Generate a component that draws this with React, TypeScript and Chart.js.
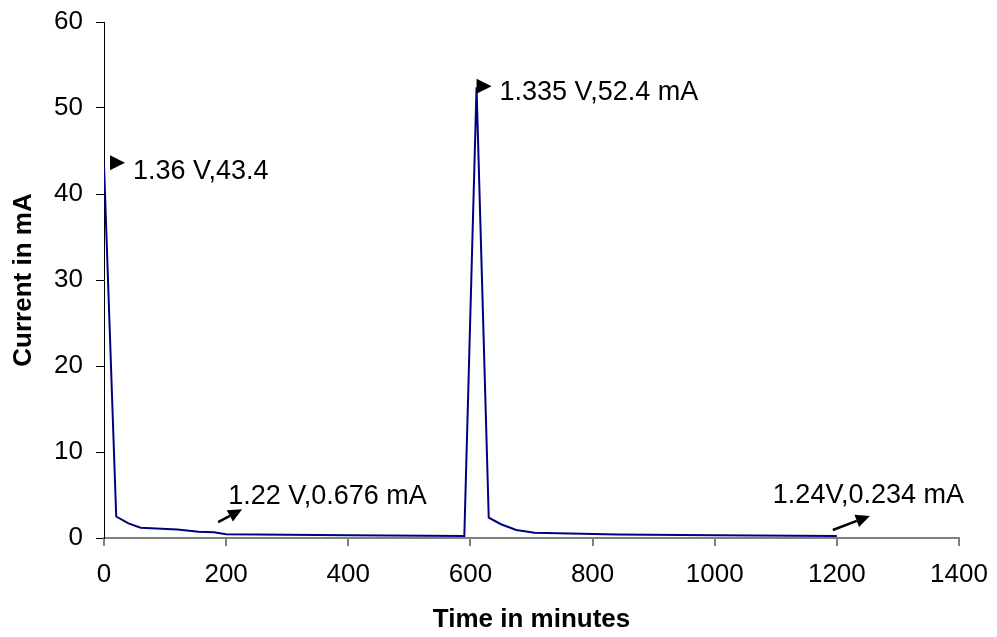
import React, { useEffect, useRef } from "react";
import { Chart, registerables } from "chart.js";

Chart.register(...registerables);

// ---- data ----
const timeMinutes = [0, 20, 40, 60, 120, 155, 180, 200, 400, 590, 610, 630, 650, 675, 705, 840, 1000, 1200];
const currentMA = [43.4, 2.5, 1.7, 1.2, 1.0, 0.72, 0.66, 0.45, 0.33, 0.22, 52.4, 2.36, 1.6, 0.93, 0.62, 0.4, 0.32, 0.234];

const xTickValues = [0, 200, 400, 600, 800, 1000, 1200, 1400];
const yTickValues = [0, 10, 20, 30, 40, 50, 60];

const annotationTexts = ["1.36 V,43.4", "1.335 V,52.4 mA", "1.22 V,0.676 mA", "1.24V,0.234 mA"];
const annotationX = [0, 610, 200, 1200];
const annotationY = [43.4, 52.4, 0.676, 0.234];

// ---- annotation layout (pixel offsets from the anchor point) ----
type AnnLayout = {
  kind: "tri" | "arrow";
  textDx: number;
  textDy: number;
  triDx?: number;
  triDy?: number;
  tail?: [number, number];
  tip?: [number, number];
};
const annotationLayout: AnnLayout[] = [
  { kind: "tri", triDx: 6, triDy: -2, textDx: 29, textDy: 7 },
  { kind: "tri", triDx: 0, triDy: -1, textDx: 23, textDy: 5 },
  { kind: "arrow", tail: [-8, -10], tip: [16, -23], textDx: 2, textDy: -36 },
  { kind: "arrow", tail: [-4, -6], tip: [33, -20], textDx: -64, textDy: -40 },
];

const FONT = "'Liberation Sans', Arial, Helvetica, sans-serif";

const annotationPlugin = {
  id: "pointAnnotations",
  afterDatasetsDraw(chart: any) {
    const ctx = chart.ctx as CanvasRenderingContext2D;
    const xs = chart.scales.x;
    const ys = chart.scales.y;
    ctx.save();
    ctx.fillStyle = "#000";
    ctx.strokeStyle = "#000";
    annotationTexts.forEach((txt, i) => {
      const L = annotationLayout[i];
      const ax = xs.getPixelForValue(annotationX[i]);
      const ay = ys.getPixelForValue(annotationY[i]);
      if (L.kind === "tri") {
        const bx = ax + (L.triDx || 0);
        const cy = ay + (L.triDy || 0);
        ctx.beginPath();
        ctx.moveTo(bx, cy - 7.5);
        ctx.lineTo(bx + 15, cy);
        ctx.lineTo(bx, cy + 7.5);
        ctx.closePath();
        ctx.fill();
      } else if (L.tail && L.tip) {
        const tx = ax + L.tail[0];
        const ty = ay + L.tail[1];
        const px = ax + L.tip[0];
        const py = ay + L.tip[1];
        const ang = Math.atan2(py - ty, px - tx);
        const headLen = 14;
        const headW = 6.5;
        const bxp = px - headLen * Math.cos(ang);
        const byp = py - headLen * Math.sin(ang);
        ctx.lineWidth = 2.5;
        ctx.beginPath();
        ctx.moveTo(tx, ty);
        ctx.lineTo(bxp, byp);
        ctx.stroke();
        ctx.beginPath();
        ctx.moveTo(px, py);
        ctx.lineTo(bxp + headW * Math.sin(ang), byp - headW * Math.cos(ang));
        ctx.lineTo(bxp - headW * Math.sin(ang), byp + headW * Math.cos(ang));
        ctx.closePath();
        ctx.fill();
      }
      ctx.font = `27px ${FONT}`;
      ctx.textAlign = "left";
      ctx.textBaseline = "middle";
      ctx.fillText(txt, ax + L.textDx, ay + L.textDy);
    });
    ctx.restore();
  },
};

export default function App() {
  const canvasRef = useRef<HTMLCanvasElement | null>(null);

  useEffect(() => {
    document.body.style.margin = "0";
    const canvas = canvasRef.current;
    if (!canvas) return;
    const chart = new Chart(canvas, {
      type: "line",
      data: {
        datasets: [
          {
            data: timeMinutes.map((t, i) => ({ x: t, y: currentMA[i] })),
            borderColor: "#000080",
            borderWidth: 2,
            pointRadius: 0,
            tension: 0,
            fill: false,
          },
        ],
      },
      options: {
        animation: false,
        responsive: false,
        devicePixelRatio: 1,
        layout: { padding: { top: 22, right: 38, bottom: 0, left: 0 } },
        plugins: {
          legend: { display: false },
          tooltip: { enabled: false },
          title: { display: false },
        },
        scales: {
          x: {
            type: "linear",
            min: 0,
            max: 1400,
            afterBuildTicks: (scale: any) => {
              scale.ticks = xTickValues.map((v) => ({ value: v }));
            },
            afterFit: (scale: any) => {
              scale.height = 99;
              scale.paddingLeft = 0;
              scale.paddingRight = 0;
            },
            grid: {
              drawOnChartArea: false,
              drawTicks: true,
              tickLength: 8,
              color: "#808080",
              lineWidth: 2,
            },
            border: { display: true, color: "#808080", width: 2 },
            ticks: {
              color: "#000",
              padding: 13,
              maxRotation: 0,
              autoSkip: false,
              font: { family: FONT, size: 26 },
              callback: (v: any) => String(v),
            },
            title: {
              display: true,
              text: "Time in minutes",
              color: "#000",
              font: { family: FONT, size: 26, weight: "bold" },
              padding: { top: 0, bottom: 2 },
            },
          },
          y: {
            type: "linear",
            min: 0,
            max: 60,
            afterBuildTicks: (scale: any) => {
              scale.ticks = yTickValues.map((v) => ({ value: v }));
            },
            afterFit: (scale: any) => {
              scale.width = 104;
              scale.paddingTop = 0;
              scale.paddingBottom = 0;
            },
            grid: {
              drawOnChartArea: false,
              drawTicks: true,
              tickLength: 8,
              color: "#000",
              lineWidth: 1,
            },
            border: { display: true, color: "#000", width: 1 },
            ticks: {
              color: "#000",
              padding: 13,
              autoSkip: false,
              font: { family: FONT, size: 26 },
              callback: (v: any) => String(v),
            },
            title: {
              display: true,
              text: "Current in mA",
              color: "#000",
              font: { family: FONT, size: 26, weight: "bold" },
              padding: { top: 8, bottom: 0 },
            },
          },
        },
      },
      plugins: [annotationPlugin],
    });
    return () => chart.destroy();
  }, []);

  return (
    <div style={{ width: 997, height: 637, background: "#fff" }}>
      <canvas ref={canvasRef} width={997} height={637} style={{ display: "block" }} />
    </div>
  );
}
